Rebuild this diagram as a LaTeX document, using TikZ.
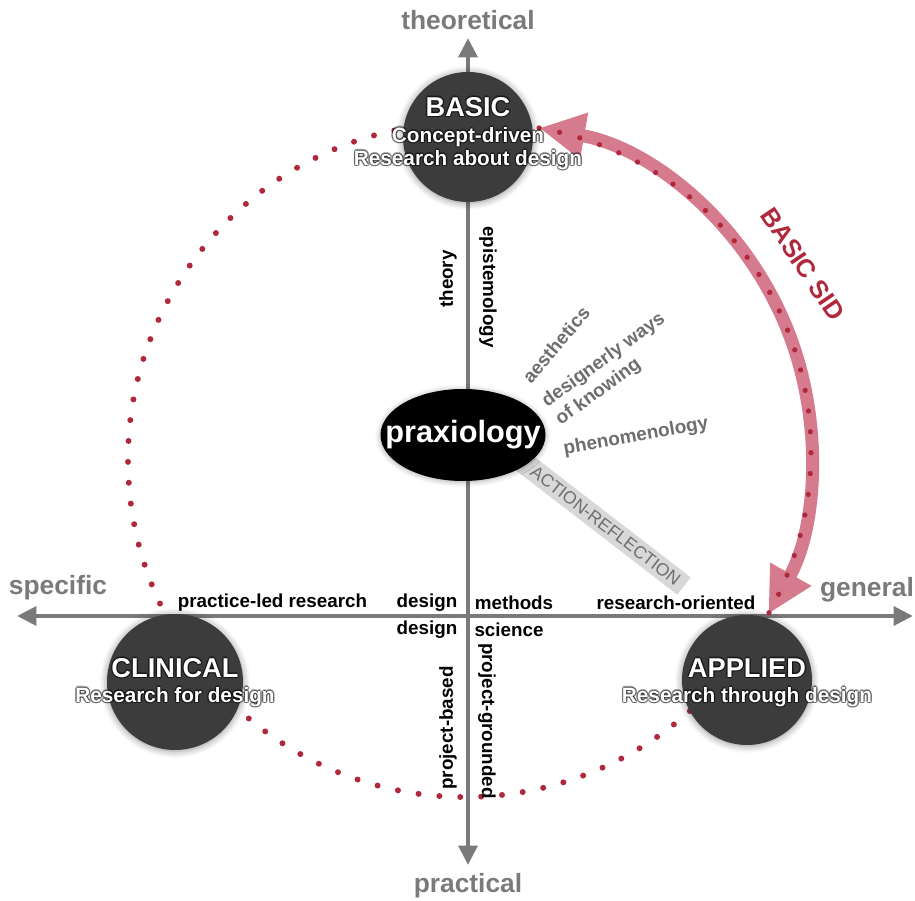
\documentclass[tikz,border=0pt]{standalone}
\usepackage{fontspec}
\setmainfont{Liberation Sans}
\usepackage{tikz}
\usetikzlibrary{arrows.meta,shapes.geometric,shadows.blur,backgrounds}

\definecolor{axisgray}{HTML}{7A7A7A}
\definecolor{dotred}{HTML}{B0283C}
\definecolor{sidpink}{HTML}{D67A8E}
\definecolor{discgray}{HTML}{3C3C3C}
\definecolor{bandgray}{HTML}{D8D8D8}
\definecolor{softgray}{HTML}{6E6E6E}

\newcommand{\glowtext}[4]{%
  \foreach \g in {0,45,...,315}
    \node[#1, text=black, opacity=0.3] at ([shift={(\g:0.8pt)}]#3) {#4};
  \node[#1] (#2) at (#3) {#4};}

\begin{document}
\begin{tikzpicture}[
  axisline/.style={axisgray, line width=2.6pt,
    {Triangle[length=11pt,width=10.5pt]}-{Triangle[length=11pt,width=10.5pt]}},
  ends/.style={axisgray, font=\bfseries\fontsize{15}{18}\selectfont},
  disc/.style={circle, fill=discgray, inner sep=0pt,
    blur shadow={shadow xshift=0pt, shadow yshift=-0.5pt, shadow blur radius=4pt, shadow opacity=45}},
  disctitle/.style={white, inner sep=0pt, font=\bfseries\fontsize{15.5}{18}\selectfont},
  discsub/.style={white, inner sep=0pt, align=center, font=\bfseries\fontsize{11.8}{13}\selectfont},
  lab/.style={inner sep=0pt, font=\bfseries\fontsize{10.7}{12}\selectfont},
  soft/.style={softgray, inner sep=0pt, font=\bfseries\fontsize{10.8}{13}\selectfont},
  ring/.style={dotred, line width=3.4pt, line cap=round, dash pattern=on 0pt off 11.9pt},
  sidline/.style={sidpink, line width=7.4pt,
    {Triangle[length=26pt,width=25pt]}-{Triangle[length=26pt,width=25pt]}},
  siddots/.style={dotred, line width=3pt, line cap=round, dash pattern=on 0pt off 11.9pt},
  refband/.style={bandgray, line width=12.5pt},
  refword/.style={softgray, inner sep=0pt, font=\fontsize{10}{12}\selectfont},
]
  \useasboundingbox (0,0) rectangle (18.3,18);

  \coordinate (axt) at (9.36,17.24);
  \coordinate (axb) at (9.36,0.7);
  \coordinate (axl) at (0.34,5.68);
  \coordinate (axr) at (18.26,5.68);
  \coordinate (ringc) at (9.3,8.8);
  \coordinate (sidc) at (9.64,8.96);
  \coordinate (refend) at (13.68,6.28);

  % the three kinds of research
  \node[disc, minimum size=2.6cm] (basic) at (9.36,15.26) {};
  \node[disc, minimum size=2.72cm] (clinical) at (3.5,4.36) {};
  \node[disc, minimum size=2.6cm] (applied) at (14.94,4.4) {};
  \node[ellipse, fill=black, minimum width=3.3cm, minimum height=1.84cm, inner sep=0pt,
    blur shadow={shadow xshift=0pt, shadow yshift=-0.5pt, shadow blur radius=3pt, shadow opacity=35}]
    (praxis) at (9.26,9.3) {};

  \begin{scope}[on background layer]
    \draw[axisline] (axb) -- (axt);
    \draw[axisline] (axl) -- (axr);
    \draw[ring] ([shift={(95:6.74)}]ringc) arc[start angle=95, end angle=315, radius=6.74];
    \draw[refband] ([xshift=0.5cm]praxis.center) -- node[refword, sloped, pos=0.6] (reftext) {ACTION-REFLECTION} (refend);
  \end{scope}

  \draw[sidline] ([shift={(80:6.58)}]sidc) arc[start angle=80, end angle=-29.5, radius=6.58];
  \draw[siddots] ([shift={(80:6.58)}]sidc) arc[start angle=80, end angle=-29.5, radius=6.58];
  \node[dotred, rotate=-56, font=\bfseries\fontsize{14.5}{17}\selectfont] (sidtext) at (16.06,12.72) {BASIC SID};

  \coordinate (basictop) at ([yshift=0.6cm]basic.center);
  \coordinate (basicbot) at ([yshift=-0.23cm]basic.center);
  \coordinate (clintop) at ([yshift=0.28cm]clinical.center);
  \coordinate (clinbot) at ([yshift=-0.3cm]clinical.center);
  \coordinate (apptop) at ([yshift=0.24cm]applied.center);
  \coordinate (appbot) at ([yshift=-0.34cm]applied.center);
  \glowtext{disctitle}{basicname}{basictop}{BASIC}
  \glowtext{discsub}{basicsub}{basicbot}{Concept-driven\\Research about design}
  \glowtext{disctitle}{clinname}{clintop}{CLINICAL}
  \glowtext{discsub}{clinsub}{clinbot}{Research for design}
  \glowtext{disctitle}{appname}{apptop}{APPLIED}
  \glowtext{discsub}{appsub}{appbot}{Research through design}
  \node[white, font=\bfseries\fontsize{17.5}{20}\selectfont] (praxname) at (praxis) {praxiology};

  % axis ends
  \node[ends] (theo) at (9.36,17.6) {theoretical};
  \node[ends] (prac) at (9.36,0.28) {practical};
  \node[ends] (spec) at (1.16,6.24) {specific};
  \node[ends] (gen) at (17.34,6.2) {general};

  % along the axes
  \node[lab] (pled) at (5.45,5.94) {practice-led research};
  \node[lab] (dm1) at (8.54,5.94) {design};
  \node[lab] (dm2) at (10.28,5.94) {methods};
  \node[lab] (ds1) at (8.54,5.4) {design};
  \node[lab] (ds2) at (10.18,5.4) {science};
  \node[lab] (roriented) at (13.52,5.94) {research-oriented};
  \node[lab, rotate=90] (theory) at (8.96,12.42) {theory};
  \node[lab, rotate=-90] (epist) at (9.76,12.26) {epistemology};
  \node[lab, rotate=90] (pbased) at (8.96,3.44) {project-based};
  \node[lab, rotate=-90] (pgrounded) at (9.74,3.58) {project-grounded};

  \node[soft, rotate=50] (aesth) at (11.12,11.1) {aesthetics};
  \node[soft, rotate=36, align=left] (ways) at (12.21,10.61) {designerly ways\\of knowing};
  \node[soft, rotate=10] (phen) at (12.72,9.26) {phenomenology};
\end{tikzpicture}
\end{document}
